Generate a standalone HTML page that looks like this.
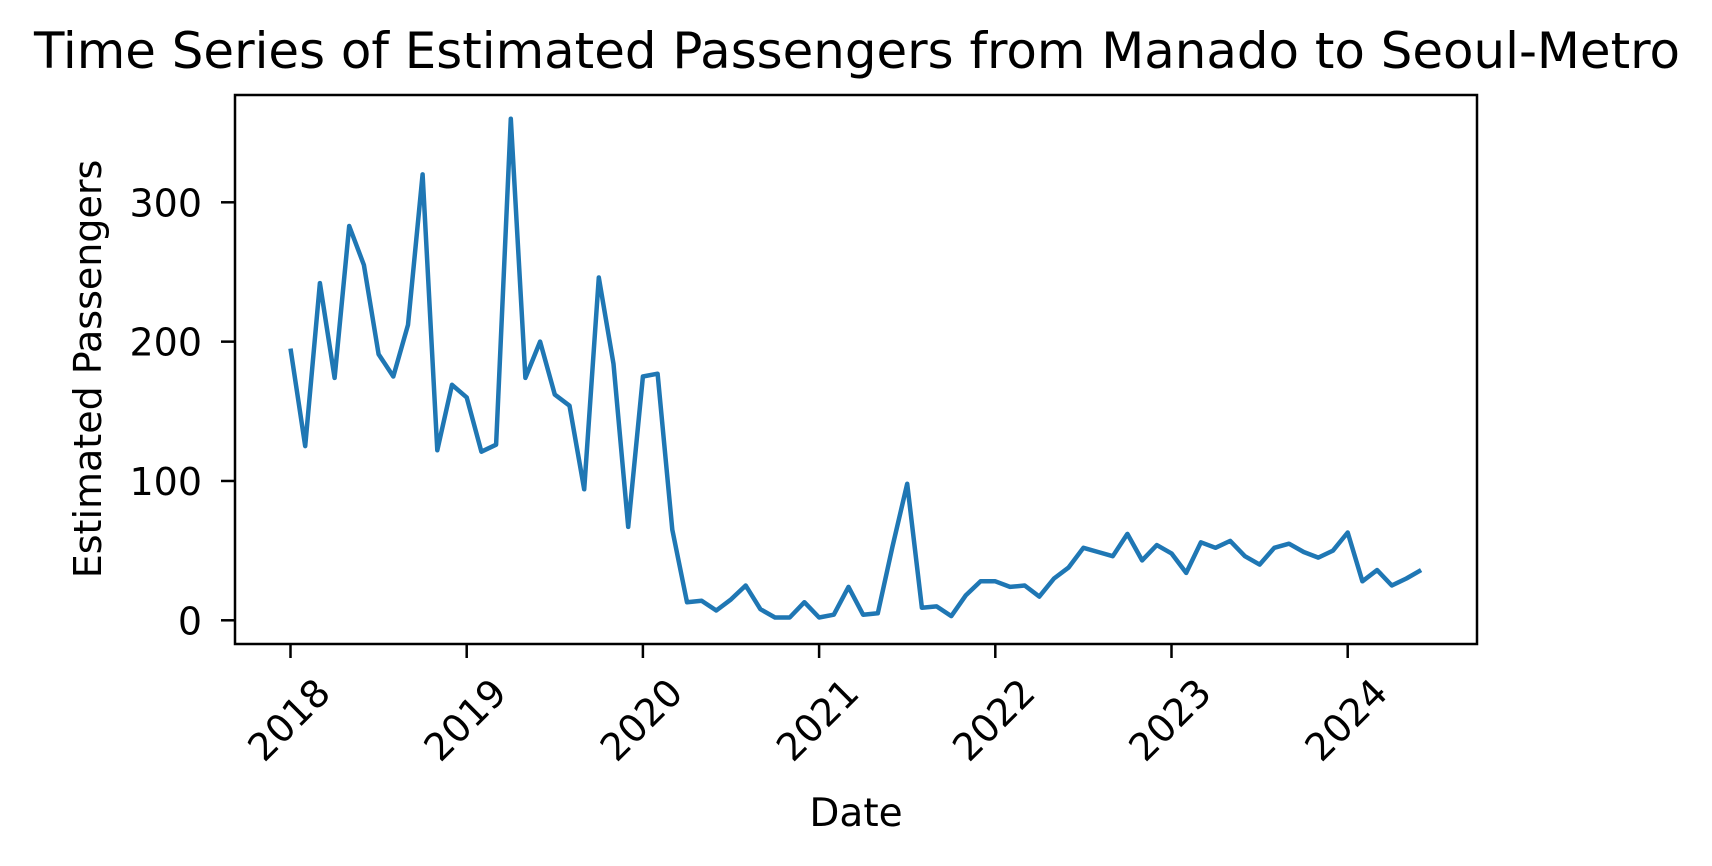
<!DOCTYPE html>
<html><head><meta charset="utf-8"><style>body{margin:0;background:#fff}svg{display:block}text{font-family:"DejaVu Sans","Liberation Sans",sans-serif;fill:#000}</style></head>
<body>
<svg id="chart" width="1712" height="866" viewBox="0 0 1712 866" xmlns="http://www.w3.org/2000/svg">
<text x="857" y="68" font-size="50" text-anchor="middle" textLength="1646" lengthAdjust="spacingAndGlyphs">Time Series of Estimated Passengers from Manado to Seoul-Metro</text>
<text transform="translate(101,369) rotate(-90)" font-size="38" text-anchor="middle">Estimated Passengers</text>
<text x="856" y="826" font-size="39" text-anchor="middle">Date</text>
<g id="axes"></g>
<rect x="235" y="95" width="1242" height="549" fill="none" stroke="#000" stroke-width="2.5"/>
</svg>
<script>
const years = [2018,2019,2020,2021,2022,2023,2024];
const yTicks = [0,100,200,300];
const startYear = 2018, startMonth = 0;
const passengers = [
195,125,242,174,283,255,191,175,212,320,122,169,
160,121,126,360,174,200,162,154,94,246,184,67,
175,177,65,13,14,7,15,25,8,2,2,13,
2,4,24,4,5,53,98,9,10,3,18,28,
28,24,25,17,30,38,52,49,46,62,43,54,
48,34,56,52,57,46,40,52,55,49,45,50,
63,28,36,25,30,36];
const NS='http://www.w3.org/2000/svg';
const g=document.getElementById('axes');
function xs(t){return 290.5+(t-2018)*176.2;}
function ys(v){return 620.3-v*1.3933;}
function mk(tag,attrs){const e=document.createElementNS(NS,tag);for(const k in attrs)e.setAttribute(k,attrs[k]);g.appendChild(e);return e;}
yTicks.forEach(v=>{
  const l=mk('line',{x1:221,x2:235,y1:ys(v),y2:ys(v),stroke:'#000','stroke-width':2.5});
  
  
  const t=mk('text',{x:202,y:ys(v)+14,'font-size':38,'text-anchor':'end'});
  t.textContent=v;
  
  
});
years.forEach(y=>{
  const x=xs(y);
  const l=mk('line',{x1:x,x2:x,y1:644,y2:658,stroke:'#000','stroke-width':2.5});
  
  
  const t=mk('text',{transform:`translate(${x+42},${695}) rotate(-45)`,'font-size':38,'text-anchor':'end'});
  t.textContent=y;
  
  
});
const pts=passengers.map((v,i)=>xs(startYear+(startMonth+i)/12).toFixed(1)+','+ys(v).toFixed(1)).join(' ');
const line=mk('polyline',{points:pts,fill:'none',stroke:'#1f77b4','stroke-width':4.5,'stroke-linejoin':'round'});


</script>
</body></html>
